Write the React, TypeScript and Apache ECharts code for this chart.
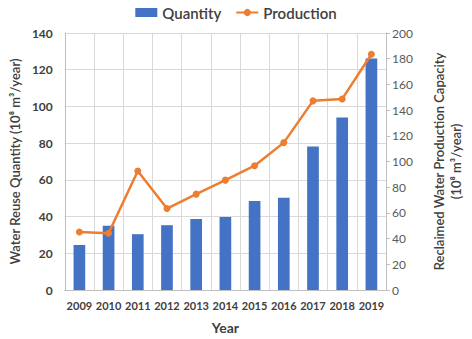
import React, { useEffect, useRef } from "react";
import * as echarts from "echarts";

const years = ["2009", "2010", "2011", "2012", "2013", "2014", "2015", "2016", "2017", "2018", "2019"];
const quantity = [24.5, 35.0, 30.4, 35.3, 38.7, 39.8, 48.5, 50.3, 78.2, 94.0, 126.1];
const production = [45.2, 44.2, 92.6, 63.4, 74.6, 85.5, 96.7, 114.7, 147.2, 148.7, 183.5];

const FONT = "Lato, 'Open Sans', sans-serif";

export default function App() {
  const ref = useRef<HTMLDivElement>(null);
  useEffect(() => {
    if (!ref.current) return;
    const chart = echarts.init(ref.current, undefined, { renderer: "svg" });
    chart.setOption({
      animation: false,
      textStyle: { fontFamily: FONT },
      legend: {
        top: 0,
        left: "center",
        itemGap: 14,
        itemWidth: 22,
        itemHeight: 9,
        textStyle: { fontSize: 15, fontWeight: 600, color: "#404040", fontFamily: FONT },
        data: [
          { name: "Quantity", icon: "rect" },
          { name: "Production" },
        ],
      },
      grid: { left: 50, right: 70, top: 33, bottom: 44, containLabel: false },
      xAxis: {
        type: "category",
        data: years,
        name: "Year",
        nameLocation: "middle",
        nameGap: 30,
        nameTextStyle: { fontSize: 14, fontWeight: "bold", color: "#404040" },
        axisLine: { lineStyle: { color: "#bfbfbf" } },
        axisTick: { show: false },
        axisLabel: { interval: 0, fontSize: 11, fontWeight: "bold", color: "#404040", margin: 10 },
        splitLine: { show: true, interval: 0, lineStyle: { color: "#d9d9d9" } },
      },
      yAxis: [
        {
          type: "value",
          min: 0,
          max: 140,
          interval: 20,
          name: "Water Reuse Quantity (10⁸ m³/year)",
          nameLocation: "middle",
          nameGap: 37,
          nameTextStyle: { fontSize: 13, fontWeight: 600, color: "#404040" },
          axisLine: { show: true, lineStyle: { color: "#bfbfbf" } },
          axisTick: { show: false },
          axisLabel: { fontSize: 12, fontWeight: "bold", color: "#404040", margin: 12 },
          splitLine: { show: true, lineStyle: { color: "#d9d9d9" } },
        },
        {
          type: "value",
          min: 0,
          max: 200,
          interval: 20,
          position: "right",
          name: "Reclaimed Water Production Capacity\n(10⁸ m³/year)",
          nameLocation: "middle",
          nameGap: 44,
          nameRotate: 90,
          nameTextStyle: { fontSize: 13, fontWeight: 600, color: "#404040", lineHeight: 17 },
          axisLine: { show: true, lineStyle: { color: "#bfbfbf" } },
          axisTick: { show: true, length: 4, lineStyle: { color: "#bfbfbf" } },
          axisLabel: { fontSize: 12, color: "#595959", margin: 6 },
          splitLine: { show: false },
        },
      ],
      series: [
        {
          name: "Quantity",
          type: "bar",
          data: quantity,
          barWidth: "40%",
          itemStyle: { color: "#4472C4" },
          yAxisIndex: 0,
        },
        {
          name: "Production",
          type: "line",
          data: production,
          yAxisIndex: 1,
          symbol: "circle",
          symbolSize: 7,
          itemStyle: { color: "#ED7D31" },
          lineStyle: { color: "#ED7D31", width: 2.5 },
        },
      ],
    });
    return () => chart.dispose();
  }, []);
  return <div ref={ref} style={{ width: 472, height: 339, position: "absolute", left: 0, top: 0 }} />;
}
